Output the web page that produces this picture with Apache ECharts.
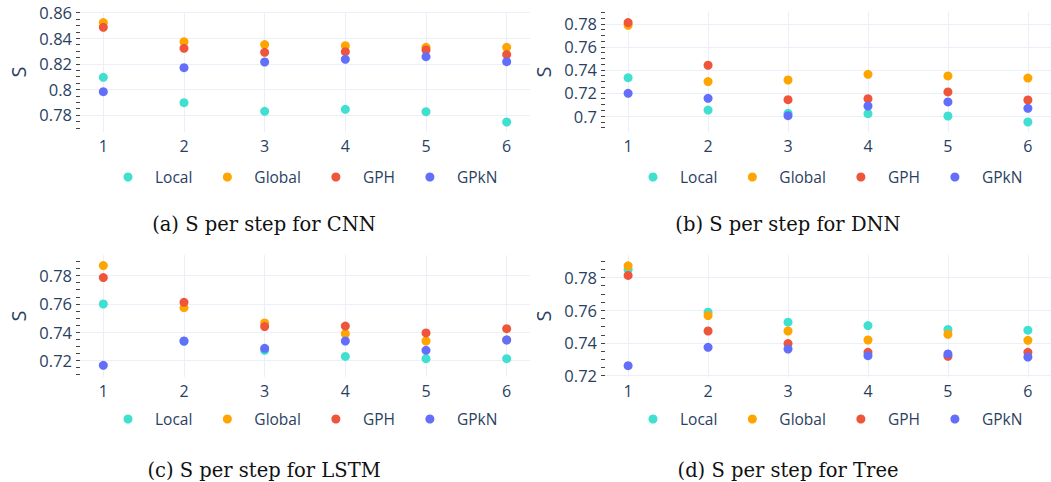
<!DOCTYPE html>
<html lang="en">
<head>
    <meta charset="UTF-8">
    <title>S per step</title>
    <script src="https://cdn.jsdelivr.net/npm/echarts@6/dist/echarts.min.js"></script>
    <style>
        html, body { margin: 0; padding: 0; background: #fff; }
        #chart1 { width: 1051px; height: 482px; }
    </style>
</head>
<body>
<div id="chart1"></div>
<script>
    // steps on the x axis
    var steps = [1, 2, 3, 4, 5, 6];
    var names = ['Local', 'Global', 'GPH', 'GPkN'];
    var colors = ['#40e0d0', '#ffa500', '#ef553b', '#636efa'];

    // (a) CNN
    var cnnLocal = [0.8094, 0.7896, 0.7829, 0.7844, 0.7826, 0.7745];
    var cnnGlobal = [0.8522, 0.8373, 0.8350, 0.8342, 0.8329, 0.8329];
    var cnnGPH = [0.8485, 0.8321, 0.8290, 0.8295, 0.8308, 0.8272];
    var cnnGPkN = [0.7982, 0.8170, 0.8214, 0.8235, 0.8256, 0.8217];

    // (b) DNN
    var dnnLocal = [0.7333, 0.7052, 0.7023, 0.7020, 0.7000, 0.6948];
    var dnnGlobal = [0.7788, 0.7299, 0.7313, 0.7362, 0.7348, 0.7330];
    var dnnGPH = [0.7812, 0.7441, 0.7142, 0.7151, 0.7209, 0.7139];
    var dnnGPkN = [0.7197, 0.7154, 0.7003, 0.7087, 0.7122, 0.7067];

    // (c) LSTM
    var lstmLocal = [0.7599, 0.7335, 0.7271, 0.7228, 0.7212, 0.7212];
    var lstmGlobal = [0.7871, 0.7573, 0.7465, 0.7389, 0.7337, 0.7345];
    var lstmGPH = [0.7786, 0.7611, 0.7439, 0.7443, 0.7394, 0.7424];
    var lstmGPkN = [0.7165, 0.7337, 0.7285, 0.7337, 0.7271, 0.7344];

    // (d) Tree
    var treeLocal = [0.7849, 0.7588, 0.7527, 0.7506, 0.7482, 0.7478];
    var treeGlobal = [0.7871, 0.7567, 0.7473, 0.7418, 0.7453, 0.7416];
    var treeGPH = [0.7812, 0.7473, 0.7396, 0.7343, 0.7318, 0.7343];
    var treeGPkN = [0.7261, 0.7373, 0.7363, 0.7322, 0.7333, 0.7314];

    // y tick labels of each panel
    var yTicksA = [0.78, 0.8, 0.82, 0.84, 0.86];
    var yTicksB = [0.7, 0.72, 0.74, 0.76, 0.78];
    var yTicksC = [0.72, 0.74, 0.76, 0.78];
    var yTicksD = [0.72, 0.74, 0.76, 0.78];

    var captions = ['(a) S per step for CNN', '(b) S per step for DNN',
        '(c) S per step for LSTM', '(d) S per step for Tree'];

    var panels = [
        {data: [cnnLocal, cnnGlobal, cnnGPH, cnnGPkN], ticks: yTicksA, min: 0.7667, max: 0.8605,
            left: 80, top: 12, height: 120, legendTop: 169, capX: 264, capY: 224},
        {data: [dnnLocal, dnnGlobal, dnnGPH, dnnGPkN], ticks: yTicksB, min: 0.6861, max: 0.7904,
            left: 605, top: 12, height: 120, legendTop: 169, capX: 788, capY: 224},
        {data: [lstmLocal, lstmGlobal, lstmGPH, lstmGPkN], ticks: yTicksC, min: 0.7082, max: 0.7946,
            left: 80, top: 255, height: 122, legendTop: 411, capX: 264, capY: 470},
        {data: [treeLocal, treeGlobal, treeGPH, treeGPkN], ticks: yTicksD, min: 0.7192, max: 0.7937,
            left: 605, top: 255, height: 122, legendTop: 411, capX: 788, capY: 470}
    ];

    var fontFam = '"Open Sans", sans-serif';
    var textCol = '#2a3f5f';
    var gridCol = '#ebf0f8';

    // minor ticks every 0.005 inside the axis range
    function minorTicks(min, max) {
        var out = [];
        for (var k = Math.ceil(min / 0.005 - 1e-6); k * 0.005 <= max + 1e-9; k++) {
            out.push(+(k * 0.005).toFixed(3));
        }
        return out;
    }

    var option = {
        animation: false,
        backgroundColor: '#fff',
        grid: [], xAxis: [], yAxis: [], series: [], legend: [], graphic: []
    };

    panels.forEach(function (p, i) {
        option.grid.push({left: p.left, top: p.top, width: 450, height: p.height});
        option.xAxis.push({
            type: 'value', gridIndex: i, min: 0.711, max: 6.289,
            minInterval: 1, maxInterval: 1,
            axisLine: {show: false}, axisTick: {show: false},
            axisLabel: {color: textCol, fontSize: 16, fontFamily: fontFam, margin: 6,
                showMinLabel: false, showMaxLabel: false},
            splitLine: {show: true, showMinLine: false, showMaxLine: false,
                lineStyle: {color: gridCol, width: 1}}
        });
        // main y axis: labels + grid lines
        option.yAxis.push({
            type: 'value', gridIndex: i, position: 'left', min: p.min, max: p.max,
            minInterval: 0.02, maxInterval: 0.02,
            name: 'S', nameLocation: 'middle', nameGap: 52,
            nameTextStyle: {color: textCol, fontSize: 20, fontFamily: fontFam},
            axisLine: {show: false}, axisTick: {show: false},
            axisLabel: {color: textCol, fontSize: 16.5, fontFamily: fontFam, margin: 8,
                customValues: p.ticks},
            splitLine: {show: true, showMinLine: false, showMaxLine: false,
                lineStyle: {color: gridCol, width: 1}}
        });
        // second y axis: only the small outside ticks
        option.yAxis.push({
            type: 'value', gridIndex: i, position: 'left', min: p.min, max: p.max,
            minInterval: 0.005, maxInterval: 0.005,
            axisLine: {show: false},
            axisTick: {show: true, inside: false, length: 4,
                customValues: minorTicks(p.min, p.max),
                lineStyle: {color: '#444', width: 1}},
            axisLabel: {show: false},
            splitLine: {show: false}
        });
        names.forEach(function (n, j) {
            option.series.push({
                name: n, type: 'scatter', xAxisIndex: i, yAxisIndex: i * 2,
                symbolSize: 9, itemStyle: {color: colors[j], opacity: 1},
                data: steps.map(function (s, k) { return [s, p.data[j][k]]; })
            });
        });
        option.legend.push({
            data: names, left: p.left + 43.5, top: p.legendTop, padding: 0,
            icon: 'circle', itemWidth: 9, itemHeight: 9, itemGap: 30.5,
            textStyle: {color: textCol, fontSize: 15.5, fontFamily: fontFam, padding: [0, 0, 0, 17.5]}
        });
        option.graphic.push({
            type: 'text', x: p.capX, y: p.capY,
            style: {text: captions[i], textAlign: 'center', textVerticalAlign: 'middle',
                fill: '#111', fontSize: 19.5, fontFamily: '"DejaVu Serif", serif'}
        });
    });

    var myChart1 = echarts.init(document.getElementById('chart1'), null, {renderer: 'svg'});
    myChart1.setOption(option);
</script>
</body>
</html>
